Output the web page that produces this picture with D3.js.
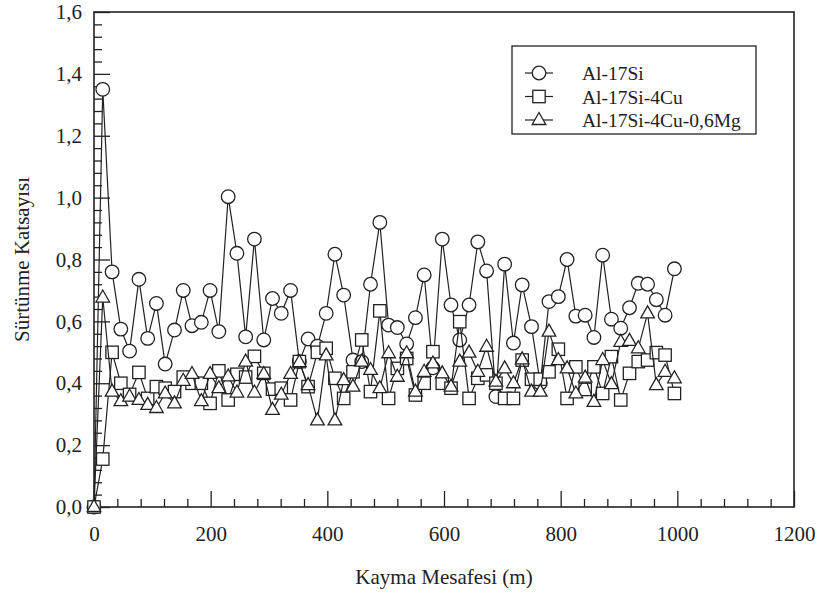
<!DOCTYPE html>
<html>
<head>
<meta charset="utf-8">
<script src="https://cdn.jsdelivr.net/npm/d3@7/dist/d3.min.js"></script>
<style>
  html, body { margin: 0; padding: 0; background: #fff; }
  svg { display: block; }
  text { font-family: "Liberation Serif", "Times New Roman", serif; fill: #222; }
</style>
</head>
<body>
<svg id="chart" width="819" height="592"></svg>
<script>
// ---- data ----
const distance = [0,15,31,46,61,77,92,107,122,138,153,168,184,199,214,230,245,260,275,291,306,321,337,352,367,383,398,413,428,444,459,474,490,505,520,536,551,566,581,597,612,627,643,658,673,689,704,719,734,750,765,780,796,811,826,842,857,872,887,903,918,933,949,964,979,995];
const al17Si = [0.0,1.35,0.76,0.575,0.504,0.736,0.545,0.658,0.462,0.572,0.70,0.586,0.597,0.70,0.567,1.003,0.82,0.55,0.866,0.54,0.674,0.626,0.70,0.47,0.543,0.52,0.626,0.817,0.685,0.475,0.47,0.72,0.92,0.588,0.58,0.527,0.612,0.75,0.45,0.866,0.653,0.54,0.653,0.857,0.763,0.357,0.785,0.53,0.718,0.583,0.40,0.664,0.68,0.80,0.617,0.62,0.548,0.814,0.607,0.578,0.644,0.723,0.72,0.67,0.62,0.77];
const al17Si4Cu = [0.0,0.155,0.50,0.40,0.364,0.435,0.351,0.389,0.384,0.373,0.42,0.40,0.40,0.335,0.44,0.346,0.429,0.42,0.487,0.432,0.381,0.384,0.346,0.47,0.389,0.50,0.513,0.416,0.351,0.437,0.54,0.373,0.634,0.351,0.448,0.48,0.362,0.40,0.502,0.40,0.384,0.599,0.351,0.416,0.427,0.40,0.351,0.351,0.475,0.413,0.413,0.437,0.51,0.351,0.453,0.38,0.453,0.367,0.486,0.346,0.432,0.47,0.475,0.499,0.491,0.367];
const al17Si4Cu06Mg = [0.0,0.677,0.373,0.342,0.357,0.346,0.33,0.32,0.367,0.335,0.408,0.43,0.342,0.43,0.384,0.422,0.37,0.47,0.37,0.43,0.314,0.363,0.43,0.468,0.394,0.28,0.49,0.28,0.41,0.389,0.47,0.443,0.384,0.497,0.421,0.497,0.373,0.437,0.464,0.432,0.389,0.47,0.499,0.437,0.518,0.405,0.448,0.40,0.477,0.373,0.373,0.567,0.475,0.448,0.367,0.418,0.34,0.475,0.397,0.534,0.537,0.513,0.626,0.394,0.437,0.416];
const seriesNames = ["Al-17Si", "Al-17Si-4Cu", "Al-17Si-4Cu-0,6Mg"];
const seriesMarkers = ["circle", "square", "triangle"];
const xTicks = [0, 200, 400, 600, 800, 1000, 1200];
const yTicks = [0, 0.2, 0.4, 0.6, 0.8, 1.0, 1.2, 1.4, 1.6];
const xTitle = "Kayma Mesafesi (m)";
const yTitle = "Sürtünme Katsayısı";

// ---- chart ----
const svg = d3.select("#chart");
const ink = "#222";
const L = 94, R = 794, T = 12, B = 507;
const x = d3.scaleLinear().domain([0, 1200]).range([L, R]);
const y = d3.scaleLinear().domain([0, 1.6]).range([B, T]);
const fmt = v => d3.format(".1f")(v).replace(".", ",");

// minor ticks
const xMinor = d3.range(0, 1201, 40).filter(v => v % 200 !== 0);
const yMinor = d3.range(0, 41, 1).map(i => i * 0.04).filter((v, i) => i % 5 !== 0);

const gx = svg.append("g").attr("transform", `translate(0,${B})`)
  .call(d3.axisBottom(x).tickValues(xTicks).tickFormat(d3.format("d")).tickSizeInner(-16).tickSizeOuter(0).tickPadding(19));
gx.select(".domain").remove();
gx.selectAll("text").attr("font-size", 21).attr("font-family", "Liberation Serif").attr("fill", ink);
gx.selectAll("line").attr("stroke", ink).attr("stroke-width", 1.3);

svg.append("g").attr("transform", `translate(0,${B})`)
  .call(d3.axisBottom(x).tickValues(xMinor).tickFormat("").tickSizeInner(-8).tickSizeOuter(0))
  .call(g => g.select(".domain").remove())
  .selectAll("line").attr("stroke", ink).attr("stroke-width", 1.3);

const gy = svg.append("g").attr("transform", `translate(${L},0)`)
  .call(d3.axisLeft(y).tickValues(yTicks).tickFormat(fmt).tickSizeInner(-16).tickSizeOuter(0).tickPadding(12));
gy.select(".domain").remove();
gy.selectAll("text").attr("font-size", 21).attr("font-family", "Liberation Serif").attr("fill", ink);
gy.selectAll("line").attr("stroke", ink).attr("stroke-width", 1.3);

svg.append("g").attr("transform", `translate(${L},0)`)
  .call(d3.axisLeft(y).tickValues(yMinor).tickFormat("").tickSizeInner(-8).tickSizeOuter(0))
  .call(g => g.select(".domain").remove())
  .selectAll("line").attr("stroke", ink).attr("stroke-width", 1.3);

// frame
svg.append("rect").attr("x", L).attr("y", T).attr("width", R - L).attr("height", B - T)
  .attr("fill", "none").attr("stroke", ink).attr("stroke-width", 1.6);

// titles
svg.append("text").attr("x", (L + R) / 2).attr("y", 584).attr("text-anchor", "middle")
  .attr("font-size", 21).text(xTitle);
svg.append("text").attr("transform", `translate(29,${(T + B) / 2}) rotate(-90)`)
  .attr("text-anchor", "middle").attr("font-size", 21).text(yTitle);

// markers
function drawMarker(g, type) {
  if (type === "circle") {
    g.append("circle").attr("r", 6.8);
  } else if (type === "square") {
    g.append("rect").attr("x", -6.2).attr("y", -6.2).attr("width", 12.4).attr("height", 12.4);
  } else {
    g.append("path").attr("d", "M0,-7.5L6.8,4.5L-6.8,4.5Z");
  }
  g.selectAll("*").attr("fill", "#fff").attr("stroke", ink).attr("stroke-width", 1.3);
}

const allSeries = [al17Si, al17Si4Cu, al17Si4Cu06Mg];
const line = d3.line().x(d => x(d[0])).y(d => y(d[1]));
allSeries.forEach((vals, si) => {
  const pts = distance.map((d, i) => [d, vals[i]]);
  const g = svg.append("g");
  g.append("path").datum(pts).attr("d", line).attr("fill", "none")
    .attr("stroke", ink).attr("stroke-width", 1.2);
  g.selectAll("g.m").data(pts).enter().append("g").attr("class", "m")
    .attr("transform", d => `translate(${x(d[0])},${y(d[1])})`)
    .each(function () { drawMarker(d3.select(this), seriesMarkers[si]); });
});

// legend
const lg = svg.append("g");
lg.append("rect").attr("x", 512).attr("y", 46).attr("width", 244).attr("height", 88)
  .attr("fill", "#fff").attr("stroke", ink).attr("stroke-width", 1.3);
seriesNames.forEach((name, i) => {
  const yy = 73 + i * 23.5;
  lg.append("line").attr("x1", 525).attr("x2", 553).attr("y1", yy).attr("y2", yy)
    .attr("stroke", ink).attr("stroke-width", 1.2);
  const m = lg.append("g").attr("transform", `translate(539,${yy})`);
  drawMarker(m, seriesMarkers[i]);
  lg.append("text").attr("x", 582).attr("y", yy + 7).attr("font-size", 19.5).text(name);
});
</script>
</body>
</html>
